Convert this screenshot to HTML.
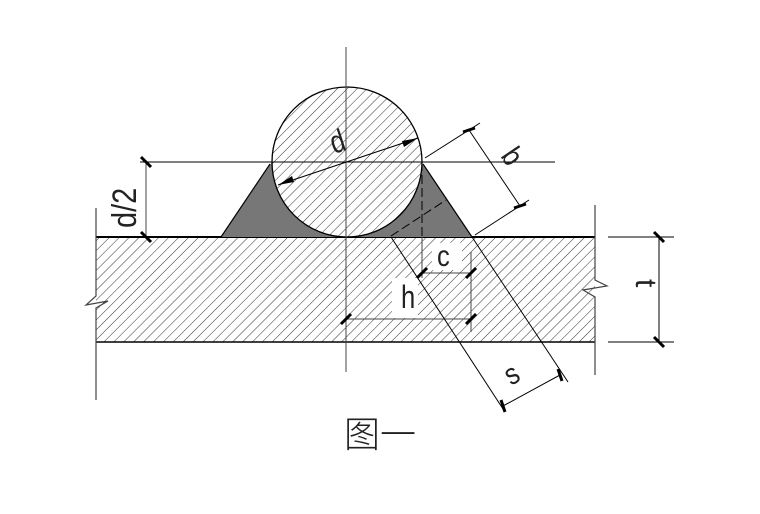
<!DOCTYPE html>
<html><head><meta charset="utf-8"><style>
html,body{margin:0;padding:0;background:#fff;}
svg{display:block;}
text{font-family:"Liberation Sans Narrow","Liberation Sans","DejaVu Sans",sans-serif;fill:#222;}
</style></head><body>
<svg width="760" height="514" viewBox="0 0 760 514" xmlns="http://www.w3.org/2000/svg">
<defs>
<pattern id="h" patternUnits="userSpaceOnUse" width="7" height="7" patternTransform="rotate(45)">
<line x1="0" y1="0" x2="0" y2="7" stroke="#333" stroke-width="1"/>
</pattern>
</defs>
<rect x="96" y="237" width="499" height="105" fill="url(#h)"/>
<rect x="392" y="278" width="26" height="40" fill="#fff"/>
<rect x="432" y="243" width="30" height="27" fill="#fff"/>
<line x1="96" y1="237" x2="595" y2="237" stroke="#000" stroke-width="2"/>
<line x1="96" y1="342" x2="595" y2="342" stroke="#000" stroke-width="1.6"/>
<polygon points="221,237 272,162 346,237" fill="#777"/>
<polygon points="472,237 421,162 346,237" fill="#777"/>
<circle cx="347" cy="162" r="75" fill="#fff"/>
<circle cx="347" cy="162" r="75" fill="url(#h)" stroke="#000" stroke-width="1.3"/>
<line x1="221" y1="237" x2="270" y2="164" stroke="#000" stroke-width="1.2"/>
<line x1="472" y1="237" x2="423" y2="164" stroke="#000" stroke-width="1.2"/>
<polyline points="96,208 96,296 86,305 108,301 96,308 96,400" fill="none" stroke="#444" stroke-width="1.2"/>
<polyline points="595,205 595,280 607,286 583,290 595,297 595,375" fill="none" stroke="#444" stroke-width="1.2"/>
<line x1="346" y1="47" x2="346" y2="372" stroke="#444" stroke-width="1"/>
<line x1="140" y1="162" x2="555" y2="162" stroke="#000" stroke-width="1"/>
<line x1="278" y1="185" x2="418" y2="138" stroke="#000" stroke-width="1"/>
<polygon points="278,185 292,176 294,182" fill="#000"/>
<polygon points="418,138 404,147 402,141" fill="#000"/>
<text font-size="32" transform="translate(334,154) rotate(-18) scale(0.8,1)">d</text>
<line x1="146" y1="162" x2="146" y2="237" stroke="#444" stroke-width="1"/>
<line x1="141" y1="157" x2="151" y2="167" stroke="#000" stroke-width="3"/>
<line x1="141" y1="232" x2="151" y2="242" stroke="#000" stroke-width="3"/>
<text font-size="34" transform="translate(136,228) rotate(-90) scale(0.85,1)">d/2</text>
<line x1="422" y1="162" x2="422" y2="237" stroke="#000" stroke-width="1" stroke-dasharray="9,4"/>
<line x1="391" y1="236" x2="446" y2="200" stroke="#000" stroke-width="1" stroke-dasharray="9,4"/>
<line x1="422" y1="237" x2="422" y2="278" stroke="#444" stroke-width="1"/>
<line x1="422" y1="273" x2="471" y2="273" stroke="#444" stroke-width="1"/>
<line x1="471" y1="252" x2="471" y2="332" stroke="#444" stroke-width="1"/>
<line x1="417" y1="278" x2="427" y2="268" stroke="#000" stroke-width="3"/>
<line x1="466" y1="278" x2="476" y2="268" stroke="#000" stroke-width="3"/>
<text font-size="30" transform="translate(437,266) scale(0.85,1)">c</text>
<line x1="346" y1="319" x2="471" y2="319" stroke="#444" stroke-width="1"/>
<line x1="341" y1="324" x2="351" y2="314" stroke="#000" stroke-width="3"/>
<line x1="466" y1="324" x2="476" y2="314" stroke="#000" stroke-width="3"/>
<text font-size="32" transform="translate(401,308) scale(0.8,1)">h</text>
<line x1="425" y1="158" x2="480" y2="123" stroke="#000" stroke-width="1"/>
<line x1="475" y1="235" x2="529" y2="200" stroke="#000" stroke-width="1"/>
<line x1="469" y1="130" x2="520" y2="206" stroke="#000" stroke-width="1"/>
<line x1="463" y1="132" x2="475" y2="128" stroke="#000" stroke-width="3"/>
<line x1="514" y1="208" x2="526" y2="204" stroke="#000" stroke-width="3"/>
<text font-size="30" transform="translate(500,156) rotate(56) scale(0.85,1)">b</text>
<line x1="391" y1="237" x2="505" y2="412" stroke="#000" stroke-width="1"/>
<line x1="472" y1="237" x2="568" y2="382" stroke="#000" stroke-width="1"/>
<line x1="503" y1="406" x2="560" y2="375" stroke="#000" stroke-width="1"/>
<line x1="501" y1="400" x2="505" y2="412" stroke="#000" stroke-width="3"/>
<line x1="558" y1="369" x2="562" y2="381" stroke="#000" stroke-width="3"/>
<text font-size="30" transform="translate(511,386) rotate(-30) scale(0.85,1)">s</text>
<line x1="608" y1="237" x2="674" y2="237" stroke="#000" stroke-width="1"/>
<line x1="608" y1="342" x2="674" y2="342" stroke="#000" stroke-width="1"/>
<line x1="659" y1="237" x2="659" y2="342" stroke="#000" stroke-width="1"/>
<line x1="654" y1="232" x2="664" y2="242" stroke="#000" stroke-width="3"/>
<line x1="654" y1="337" x2="664" y2="347" stroke="#000" stroke-width="3"/>
<text font-size="30" transform="translate(636,279) rotate(90)">t</text>
<text x="344" y="447" font-size="36" style="font-family:'Liberation Sans','Noto Sans CJK SC',sans-serif;font-weight:300">图一</text>
</svg>
</body></html>
